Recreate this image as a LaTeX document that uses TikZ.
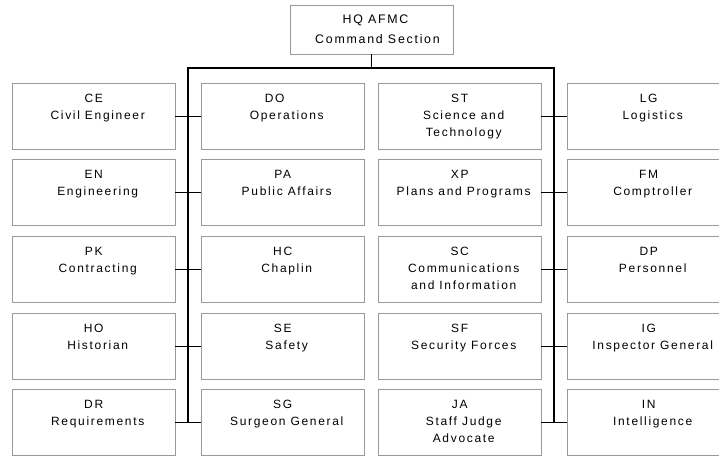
\documentclass[tikz,border=0pt]{standalone}
\usepackage{fontspec}
\newfontfamily\orgfont{Liberation Sans}[LetterSpace=14]
\definecolor{boxgray}{HTML}{9A9A9A}
\newcommand{\sh}{\rule{8pt}{0pt}}
\newcommand{\orgbox}[4]{%
  \node[orgbox] (#1) at (#2,#3) {};
  \node[orgtext] (#1-t) at (#1.north) {#4};
}
\tikzset{
  orgbox/.style={draw=boxgray, line width=0.9pt, anchor=north west,
    minimum width=162.5pt, minimum height=66pt, inner sep=0pt},
  orgtext/.style={anchor=north, yshift=-10.9pt, inner sep=0pt, align=center,
    font=\orgfont\fontsize{12}{17}\selectfont},
  hqbox/.style={draw=boxgray, line width=0.9pt, minimum width=163pt,
    minimum height=49pt, inner sep=0pt, align=center,
    font=\orgfont\fontsize{12.4}{20}\selectfont},
  bus/.style={line width=1.4pt, black},
  conn/.style={line width=0.8pt, black}
}
\begin{document}
\begin{tikzpicture}[x=1pt,y=-1pt]
\clip (0,0) rectangle (719,455);
\fill[white] (0,0) rectangle (719,455);
\node[hqbox] (hq) at (371.5,29.5) {\rule{8pt}{0pt}HQ AFMC\\\rule{12pt}{0pt}Command Section};
% column 1
\orgbox{ce}{12}{83}{CE\\\sh Civil Engineer}
\orgbox{en}{12}{159}{EN\\\sh Engineering}
\orgbox{pk}{12}{236}{PK\\\sh Contracting}
\orgbox{ho}{12}{313}{HO\\\sh Historian}
\orgbox{dr}{12}{389}{DR\\\sh Requirements}
% column 2
\orgbox{do}{201}{83}{DO\rule{16pt}{0pt}\\\sh Operations}
\orgbox{pa}{201}{159}{PA\\\sh Public Affairs}
\orgbox{hc}{201}{236}{HC\\\sh Chaplin}
\orgbox{se}{201}{313}{SE\\\sh Safety}
\orgbox{sg}{201}{389}{SG\\\sh Surgeon General}
% column 3
\orgbox{st}{378}{83}{ST\\\sh Science and\\\sh Technology}
\orgbox{xp}{378}{159}{XP\\\sh Plans and Programs}
\orgbox{sc}{378}{236}{SC\\\sh Communications\\\sh and Information}
\orgbox{sf}{378}{313}{SF\\\sh Security Forces}
\orgbox{ja}{378}{389}{JA\\\sh Staff Judge\\\sh Advocate}
% column 4
\orgbox{lg}{567}{83}{LG\\\sh Logistics}
\orgbox{fm}{567}{159}{FM\\\sh Comptroller}
\orgbox{dp}{567}{236}{DP\\\sh Personnel}
\orgbox{ig}{567}{313}{IG\\\sh Inspector General}
\orgbox{in}{567}{389}{IN\\\sh Intelligence}
% buses
\coordinate (tl) at (188,68);
\coordinate (tr) at (554,68);
\coordinate (bl) at (188,422);
\coordinate (br) at (554,422);
\draw[bus] (bl) -- (tl) -- (tr) -- (br);
\draw[conn] (hq.south) -- (hq.south |- tl);
% connectors
\draw[conn] (ce.east) -- (do.west);
\draw[conn] (en.east) -- (pa.west);
\draw[conn] (pk.east) -- (hc.west);
\draw[conn] (ho.east) -- (se.west);
\draw[conn] (dr.east) -- (sg.west);
\draw[conn] (st.east) -- (lg.west);
\draw[conn] (xp.east) -- (fm.west);
\draw[conn] (sc.east) -- (dp.west);
\draw[conn] (sf.east) -- (ig.west);
\draw[conn] (ja.east) -- (in.west);
\end{tikzpicture}
\end{document}
